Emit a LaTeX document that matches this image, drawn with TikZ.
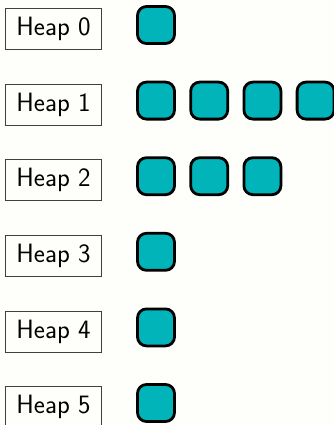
\documentclass[tikz,border=0pt]{standalone}
\usepackage{fontspec}
\definecolor{bg}{RGB}{254,255,250}
\definecolor{tok}{RGB}{0,180,186}
\begin{document}
\begin{tikzpicture}[x=1pt,y=-1pt,
  heaplabel/.style={draw=black!75, line width=0.8pt, fill=bg, minimum width=96pt, minimum height=41pt, inner sep=0pt, font=\fontsize{26.5}{32}\selectfont\sffamily},
  token/.style={draw=black, line width=2.8pt, fill=tok, rounded corners=9pt, minimum width=37pt, minimum height=37pt, inner sep=0pt}]
\fill[bg] (0,0) rectangle (334,425);
\useasboundingbox (0,0) rectangle (334,425);
\foreach \i/\n in {0/1,1/4,2/3,3/1,4/1,5/1}{
  \pgfmathsetmacro{\yc}{25+75.6*\i}
  \node[heaplabel] (h\i) at (53.5,\yc+4) {Heap \i};
  \foreach \k in {1,...,\n}{
    \node[token] (s\i-\k) at (156+53.2*\k-53.2,\yc) {};
  }
}
\end{tikzpicture}
\end{document}
